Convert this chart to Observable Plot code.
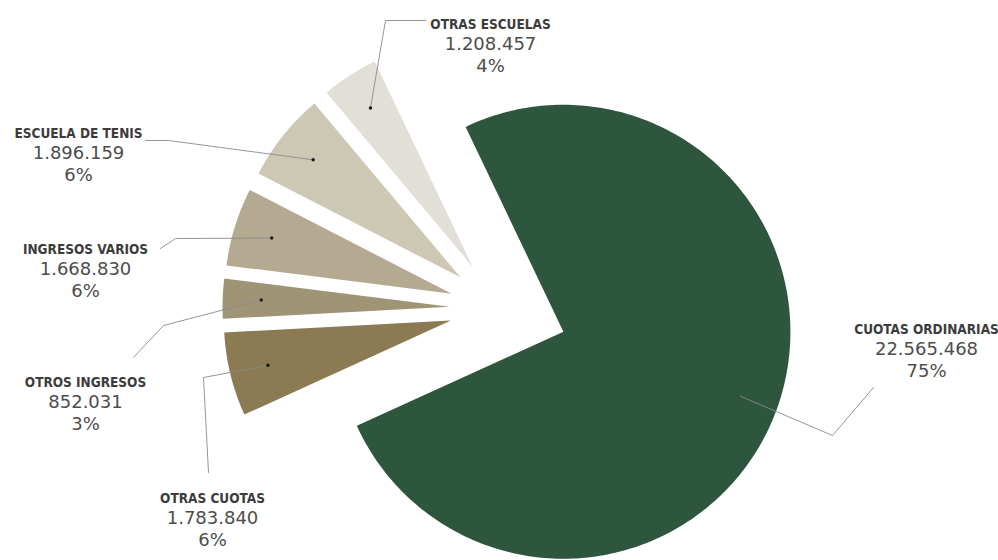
<!DOCTYPE html>
<html><head><meta charset="utf-8">
<script src="https://cdn.jsdelivr.net/npm/d3@7"></script>
<script src="https://cdn.jsdelivr.net/npm/@observablehq/plot@0.6"></script>
<style>body{margin:0;background:#fff}#chart{width:998px;height:560px}</style>
</head><body><div id="chart"></div>
<script>
// ---- data ----
const categories = ["CUOTAS ORDINARIAS", "OTRAS CUOTAS", "OTROS INGRESOS", "INGRESOS VARIOS", "ESCUELA DE TENIS", "OTRAS ESCUELAS"];
const values = [22565468, 1783840, 852031, 1668830, 1896159, 1208457];
const colors = ["#2e563e", "#8c7a52", "#a09476", "#b4aa91", "#cdc8b4", "#e1dfd7"];

// ---- layout (chart units = pixels of the 998x560 frame) ----
const pieCenter = [499, 308];
const pieRadius = 227;
const greenBisectorDeg = 110;
const explode = [68, 50, 50, 50, 50, 50];
const labelPos = [[926, 333], [212, 502], [85, 386], [85, 253], [78, 137], [490, 28]];
const leaderBends = [
  [[873, 387], [832, 435]],
  [[208, 472], [203, 377]],
  [[133, 357], [163, 325]],
  [[160, 248], [175, 238]],
  [[145, 140], [168, 140]],
  [[425, 20], [385, 20]]
];

const total = d3.sum(values);
const greenSpan = values[0] / total * 2 * Math.PI;
const start = greenBisectorDeg * Math.PI / 180 - greenSpan / 2;
const arcs = d3.pie().sort(null).value(d => d).startAngle(start).endAngle(start + 2 * Math.PI)(values);

const polar = (x0, y0, r, a) => [x0 + r * Math.sin(a), y0 - r * Math.cos(a)];

const slicePts = [], leaderPts = [], dots = [];
arcs.forEach((a, i) => {
  const name = categories[i];
  const bis = (a.startAngle + a.endAngle) / 2;
  const [ax, ay] = polar(pieCenter[0], pieCenter[1], explode[i], bis);
  slicePts.push({name, x: ax, y: ay});
  const n = Math.max(4, Math.ceil((a.endAngle - a.startAngle) / (Math.PI / 180)));
  for (let k = 0; k <= n; k++) {
    const t = a.startAngle + (a.endAngle - a.startAngle) * k / n;
    const [px, py] = polar(ax, ay, pieRadius, t);
    slicePts.push({name, x: px, y: py});
  }
  slicePts.push({name, x: ax, y: ay});
  const [dx, dy] = polar(ax, ay, pieRadius * 0.83, bis);
  if (i > 0) dots.push({name, x: dx, y: dy});
  leaderBends[i].forEach(([x, y]) => leaderPts.push({name, x, y}));
  leaderPts.push({name, x: dx, y: dy});
});

const fmt = d3.formatLocale({decimal: ",", thousands: ".", grouping: [3], currency: ["", ""]}).format(",d");
const labels = categories.map((name, i) => ({
  name,
  value: fmt(values[i]),
  pct: Math.round(values[i] / total * 100) + "%",
  x: labelPos[i][0],
  y: labelPos[i][1]
}));

const nameFont = "'Liberation Sans Narrow','DejaVu Sans Condensed','Roboto Condensed',Roboto,sans-serif";
const numFont = "'DejaVu Sans',sans-serif";

const chart = Plot.plot({
  width: 998,
  height: 560,
  margin: 0,
  x: {domain: [0, 998], range: [0, 998], axis: null},
  y: {domain: [0, 560], range: [0, 560], axis: null},
  color: {domain: categories, range: colors},
  marks: [
    Plot.line(slicePts, {x: "x", y: "y", z: "name", fill: "name", stroke: "none", curve: "linear"}),
    Plot.line(leaderPts, {x: "x", y: "y", z: "name", stroke: "#8a8a8a", strokeWidth: 0.9, curve: "linear"}),
    Plot.dot(dots, {x: "x", y: "y", r: 1.7, fill: "#1a1a1a", stroke: "none"}),
    Plot.text(labels, {x: "x", y: "y", text: "name", lineAnchor: "bottom", textAnchor: "middle",
      fontFamily: nameFont, fontWeight: 700, fontSize: 13.5, fill: "#3c3c3c"}),
    Plot.text(labels, {x: "x", y: "y", dy: 21, text: "value", lineAnchor: "bottom", textAnchor: "middle",
      fontFamily: numFont, fontSize: 18, fill: "#4d4d4d"}),
    Plot.text(labels, {x: "x", y: "y", dy: 43, text: "pct", lineAnchor: "bottom", textAnchor: "middle",
      fontFamily: numFont, fontSize: 18, fill: "#4d4d4d"})
  ]
});
document.getElementById("chart").append(chart);
</script>
</body></html>
